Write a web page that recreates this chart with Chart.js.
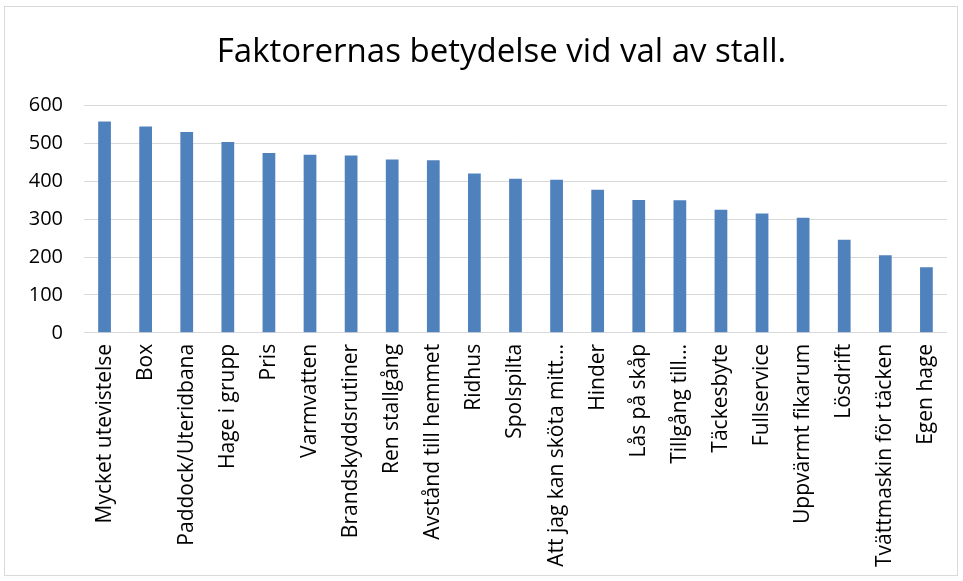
<!DOCTYPE html>
<html>
<head>
<meta charset="utf-8">
<script src="https://cdn.jsdelivr.net/npm/chart.js@4/dist/chart.umd.min.js"></script>
<style>
    body { margin: 0; background: #fff; }
    #wrap { position: absolute; left: 0; top: 0; width: 963px; height: 581px; }
    #frame { position: absolute; left: 4px; top: 6px; width: 952px; height: 568px; border: 1px solid #d9d9d9; pointer-events: none; }
</style>
</head>
<body>
<div id="wrap"><canvas id="myChart"></canvas></div>
<div id="frame"></div>
<script>
const categories = [
    "Mycket utevistelse", "Box", "Paddock/Uteridbana", "Hage i grupp", "Pris",
    "Varmvatten", "Brandskyddsrutiner", "Ren stallgång", "Avstånd till hemmet", "Ridhus",
    "Spolspilta", "Att jag kan sköta mitt…", "Hinder", "Lås på skåp", "Tillgång till…",
    "Täckesbyte", "Fullservice", "Uppvärmt fikarum", "Lösdrift", "Tvättmaskin för täcken",
    "Egen hage"
];
const values = [558, 545, 530, 504, 475, 470, 468, 458, 456, 421, 407, 404, 378, 351, 350, 325, 315, 304, 246, 205, 173];
const yTicks = [0, 100, 200, 300, 400, 500, 600];
const titleText = "Faktorernas betydelse vid val av stall.";

// title in the original sits a bit right of centre
const shiftTitle = {
    id: 'shiftTitle',
    afterLayout(c) {
        if (c.titleBlock) c.titleBlock.left += 56;
    }
};

const ctx = document.getElementById('myChart').getContext('2d');
const chart = new Chart(ctx, {
    type: 'bar',
    data: {
        labels: categories,
        datasets: [{
            data: values,
            backgroundColor: '#4f81bd',
            borderWidth: 0,
            barPercentage: 0.31,
            categoryPercentage: 1.0
        }]
    },
    options: {
        responsive: true,
        maintainAspectRatio: false,
        animation: false,
        layout: { padding: { left: 0, right: 16, top: 0, bottom: 3 } },
        plugins: {
            legend: { display: false },
            tooltip: { enabled: false },
            title: {
                display: true,
                text: titleText,
                color: '#000',
                font: { family: 'Open Sans', size: 33, weight: 'normal' },
                padding: { top: 33, bottom: 33 }
            }
        },
        scales: {
            x: {
                grid: { display: false, drawTicks: false },
                border: { display: true, color: '#d9d9d9', width: 1 },
                ticks: {
                    color: '#000',
                    font: { family: 'Open Sans', size: 21 },
                    maxRotation: 90,
                    minRotation: 90,
                    autoSkip: false,
                    padding: 11
                }
            },
            y: {
                min: 0,
                max: 600,
                afterBuildTicks: axis => { axis.ticks = yTicks.map(v => ({ value: v })); },
                afterFit: axis => { axis.width = 84; },
                grid: { color: '#d9d9d9', lineWidth: 1, drawTicks: false },
                border: { display: false },
                ticks: {
                    color: '#000',
                    font: { family: 'Open Sans', size: 20 },
                    padding: 21
                }
            }
        }
    },
    plugins: [shiftTitle]
});
</script>
</body>
</html>
